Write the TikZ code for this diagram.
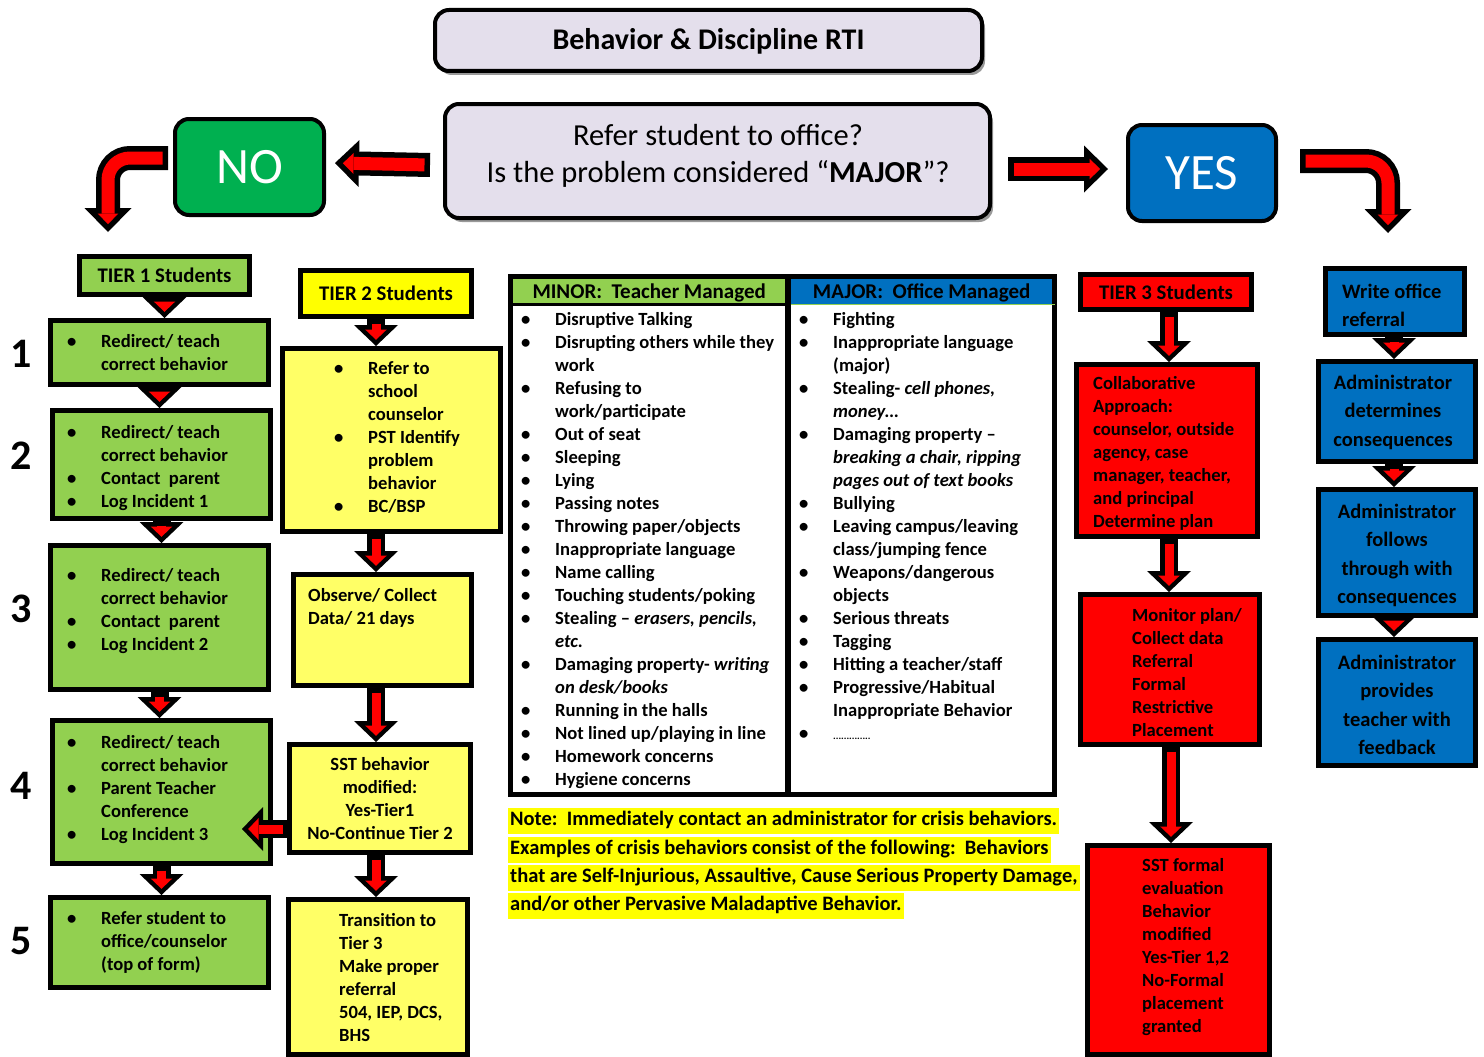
\documentclass[tikz,border=0pt]{standalone}
\usepackage{fontspec}
\setmainfont{Carlito}
\usetikzlibrary{arrows.meta,shadows}

\definecolor{titlegray}{HTML}{E4DFEC}
\definecolor{nogreen}{HTML}{00B050}
\definecolor{officeblue}{HTML}{0070C0}
\definecolor{tiergreen}{HTML}{92D050}
\definecolor{tieryellow}{HTML}{FFFF00}
\definecolor{paleyellow}{HTML}{FFFF66}
\definecolor{tierred}{HTML}{FF0000}

\newcommand{\bodyfont}{\fontsize{18.6}{23}\selectfont\bfseries}
\newcommand{\bluefont}{\fontsize{20.5}{28.5}\selectfont\bfseries}
\newcommand{\labelfont}{\fontsize{20.8}{25}\selectfont\bfseries}
\newcommand{\bitem}{\makebox[34pt][l]{\textbullet}}
\newcommand{\bcont}{\hspace*{34pt}}

\begin{document}
\begin{tikzpicture}[x=1pt, y=-1pt,
        flowbox/.style={draw=black, line width=5pt, inner sep=0pt, anchor=north west},
        roundbox/.style={draw=black, line width=4pt, rounded corners=14pt, inner sep=0pt, anchor=north west},
        boxshadow/.style={drop shadow={shadow xshift=3pt, shadow yshift=-4pt, opacity=0.4, fill=black}},
        bodytext/.style={inner sep=0pt, anchor=north west, align=left, font=\bodyfont, yshift=-3pt, execute at begin node=\strut},
        bluetext/.style={inner sep=0pt, anchor=north, align=center, font=\bluefont, yshift=-5pt, execute at begin node=\strut},
        headtext/.style={inner sep=0pt, anchor=north west, minimum height=28pt, text height=20.5pt, text depth=4.5pt,
            font=\fontsize{21}{25}\selectfont\bfseries},
        notetext/.style={fill=tieryellow, inner xsep=2pt, inner ysep=3pt, anchor=west, text height=15pt, text depth=5pt, font=\fontsize{20.5}{28}\selectfont\bfseries},
        numtext/.style={inner sep=0pt, font=\fontsize{42}{48}\selectfont\bfseries},
        arrow/.style={draw=tierred, line width=9pt, shorten <=4.5pt, shorten >=6.2pt,
            -{Triangle[width=21.6pt, length=10.3pt, line width=0pt]},
            preaction={draw=black, line width=18pt, shorten <=0pt, shorten >=0pt,
                -{Triangle[width=44pt, length=21pt, line width=0pt]}}},
        bigarrow/.style={draw=tierred, line width=13pt, shorten <=5.5pt, shorten >=7.9pt,
            -{Triangle[width=20.8pt, length=10.6pt, line width=0pt]},
            preaction={draw=black, line width=24pt, shorten <=0pt, shorten >=0pt,
                -{Triangle[width=47pt, length=24pt, line width=0pt]}}}]

        \fill[white] (0,0) rectangle (1484,1057);
        \useasboundingbox (0,0) rectangle (1484,1057);

        % Title and question --  --  --  --  --  --  --  --  --  --  --  --
        \node[roundbox, boxshadow, fill=titlegray, minimum width=547pt, minimum height=61pt,
            text height=25pt, text depth=6pt,
            font=\fontsize{30}{36}\selectfont\bfseries] (title) at (433,8) {Behavior \& Discipline RTI};
        \node[roundbox, boxshadow, fill=titlegray, minimum width=545pt, minimum height=114pt] (quest) at (443,102) {};
        \node[align=center, inner sep=0pt, font=\fontsize{30.5}{37}\selectfont] (qtxt) at (718,156)
            {Refer student to office?\\Is the problem considered “\textbf{MAJOR}”?};

        % NO / YES
        \node[roundbox, fill=nogreen, minimum width=149pt, minimum height=96pt, text=white,
            font=\fontsize{51}{55}\selectfont] (no) at (173,117) {NO};
        \node[roundbox, fill=officeblue, minimum width=148pt, minimum height=96pt, text=white,
            font=\fontsize{51}{55}\selectfont] (yes) at (1126,123) {YES};
        %  --  --  --  --  --  --  --  --  --  --  --  --  --  --  --  --

        % Tier 1 --  --  --  --  --  --  --  --  --  --  --  --  --  --  --
        \node[flowbox, fill=tiergreen, minimum width=170pt, minimum height=38pt, font=\labelfont] (t1) at (77,254) {TIER 1 Students};
        \node[flowbox, fill=tiergreen, minimum width=218pt, minimum height=64pt] (b1) at (48,318) {};
        \node[flowbox, fill=tiergreen, minimum width=218pt, minimum height=108pt] (b2) at (50,408) {};
        \node[flowbox, fill=tiergreen, minimum width=218pt, minimum height=144pt] (b3) at (48,543) {};
        \node[flowbox, fill=tiergreen, minimum width=218pt, minimum height=143pt] (b4) at (50,718) {};
        \node[flowbox, fill=tiergreen, minimum width=218pt, minimum height=90pt] (b5) at (48,895) {};

        \node[bodytext] (b1txt) at (67,331) {\bitem Redirect/ teach\\\bcont correct behavior};
        \node[bodytext] (b2txt) at (67,422) {\bitem Redirect/ teach\\\bcont correct behavior\\
            \bitem Contact\ \ parent\\\bitem Log Incident 1};
        \node[bodytext] (b3txt) at (67,565) {\bitem Redirect/ teach\\\bcont correct behavior\\
            \bitem Contact\ \ parent\\\bitem Log Incident 2};
        \node[bodytext] (b4txt) at (67,732) {\bitem Redirect/ teach\\\bcont correct behavior\\
            \bitem Parent Teacher\\\bcont Conference\\\bitem Log Incident 3};
        \node[bodytext] (b5txt) at (67,908) {\bitem Refer student to\\\bcont office/counselor\\\bcont (top of form)};

        % step numbers
        \node[numtext] (n1) at (21,354) {1};
        \node[numtext] (n2) at (21,456) {2};
        \node[numtext] (n3) at (21,609) {3};
        \node[numtext] (n4) at (21,786) {4};
        \node[numtext] (n5) at (21,941) {5};
        %  --  --  --  --  --  --  --  --  --  --  --  --  --  --  --  --

        % Tier 2 --  --  --  --  --  --  --  --  --  --  --  --  --  --  --
        \node[flowbox, fill=tieryellow, minimum width=171pt, minimum height=46pt, font=\labelfont] (t2) at (298,268) {TIER 2 Students};
        \node[flowbox, fill=paleyellow, minimum width=218pt, minimum height=183pt] (t2a) at (280,346) {};
        \node[flowbox, fill=paleyellow, minimum width=178pt, minimum height=111pt] (t2b) at (291,572) {};
        \node[flowbox, fill=paleyellow, minimum width=181pt, minimum height=108pt] (t2c) at (287,742) {};
        \node[flowbox, fill=paleyellow, minimum width=179pt, minimum height=155pt] (t2d) at (286,897) {};

        \node[bodytext] (t2atxt) at (334,358) {\bitem Refer to\\\bcont school\\\bcont counselor\\
            \bitem PST Identify\\\bcont problem\\\bcont behavior\\\bitem BC/BSP};
        \node[bodytext] (t2btxt) at (308,585) {Observe/ Collect\\Data/ 21 days};
        \node[bodytext, anchor=north, align=center] (t2ctxt) at (380,754)
            {SST behavior\\modified:\\Yes-Tier1\\No-Continue Tier 2};
        \node[bodytext] (t2dtxt) at (339,910) {Transition to\\Tier 3\\Make proper\\referral\\504, IEP, DCS,\\BHS};
        %  --  --  --  --  --  --  --  --  --  --  --  --  --  --  --  --

        % Minor / Major table --  --  --  --  --  --  --  --  --  --  --  -
        \node[headtext, fill=tiergreen, minimum width=278pt] (minor) at (510,276) {MINOR:\ \ Teacher Managed};
        \node[headtext, fill=officeblue, minimum width=267pt] (major) at (788,276) {MAJOR:\ \ Office Managed};
        \node[flowbox, minimum width=544pt, minimum height=518pt] (tbl) at (508,274) {};
        \draw[line width=3pt] (minor.south west) -- (minor.south east);
        \draw[line width=1.5pt, tiergreen] (major.south west) -- (major.south east);
        \draw[line width=6pt] (minor.north east) -- (minor.north east |- tbl.south);

        \node[bodytext] (minortxt) at (521,309) {\bitem Disruptive Talking\\
            \bitem Disrupting others while they\\\bcont work\\
            \bitem Refusing to\\\bcont work/participate\\
            \bitem Out of seat\\
            \bitem Sleeping\\
            \bitem Lying\\
            \bitem Passing notes\\
            \bitem Throwing paper/objects\\
            \bitem Inappropriate language\\
            \bitem Name calling\\
            \bitem Touching students/poking\\
            \bitem Stealing -- \textit{erasers, pencils,}\\\bcont \textit{etc.}\\
            \bitem Damaging property- \textit{writing}\\\bcont \textit{on desk/books}\\
            \bitem Running in the halls\\
            \bitem Not lined up/playing in line\\
            \bitem Homework concerns\\
            \bitem Hygiene concerns};
        \node[bodytext] (majortxt) at (799,309) {\bitem Fighting\\
            \bitem Inappropriate language\\\bcont (major)\\
            \bitem Stealing- \textit{cell phones,}\\\bcont \textit{money…}\\
            \bitem Damaging property --\\\bcont \textit{breaking a chair, ripping}\\\bcont \textit{pages out of text books}\\
            \bitem Bullying\\
            \bitem Leaving campus/leaving\\\bcont class/jumping fence\\
            \bitem Weapons/dangerous\\\bcont objects\\
            \bitem Serious threats\\
            \bitem Tagging\\
            \bitem Hitting a teacher/staff\\
            \bitem Progressive/Habitual\\\bcont Inappropriate Behavior\\
            \bitem {\fontsize{10}{23}\selectfont ..............}};

        % crisis note
        \node[notetext] (note1) at (508,820.5) {Note:\ \ Immediately contact an administrator for crisis behaviors.};
        \node[notetext] (note2) at (508,849.5) {Examples of crisis behaviors consist of the following:\ \ Behaviors};
        \node[notetext] (note3) at (508,877.5) {that are Self-Injurious, Assaultive, Cause Serious Property Damage,};
        \node[notetext] (note4) at (508,905.5) {and/or other Pervasive Maladaptive Behavior.};
        %  --  --  --  --  --  --  --  --  --  --  --  --  --  --  --  --

        % Tier 3 --  --  --  --  --  --  --  --  --  --  --  --  --  --  --
        \node[flowbox, fill=tierred, minimum width=171pt, minimum height=35pt, font=\labelfont] (t3) at (1078,272) {TIER 3 Students};
        \node[flowbox, fill=tierred, minimum width=181pt, minimum height=172pt] (t3a) at (1074,362) {};
        \node[flowbox, fill=tierred, minimum width=179pt, minimum height=150pt] (t3b) at (1078,592) {};
        \node[flowbox, fill=tierred, minimum width=182pt, minimum height=209pt] (t3c) at (1085,843) {};

        \node[bodytext] (t3atxt) at (1093,373) {Collaborative\\Approach:\\counselor, outside\\agency, case\\
            manager, teacher,\\and principal\\Determine plan};
        \node[bodytext] (t3btxt) at (1132,605) {Monitor plan/\\Collect data\\Referral\\Formal\\Restrictive\\Placement};
        \node[bodytext] (t3ctxt) at (1142,855) {SST formal\\evaluation\\Behavior\\modified\\Yes-Tier 1,2\\
            No-Formal\\placement\\granted};
        %  --  --  --  --  --  --  --  --  --  --  --  --  --  --  --  --

        % Office referral --  --  --  --  --  --  --  --  --  --  --  --  -
        \node[flowbox, fill=officeblue, minimum width=139pt, minimum height=66pt] (off) at (1323,266) {};
        \node[flowbox, fill=officeblue, minimum width=157pt, minimum height=100pt] (adm1) at (1316,359) {};
        \node[flowbox, fill=officeblue, minimum width=157pt, minimum height=126pt] (adm2) at (1316,487) {};
        \node[flowbox, fill=officeblue, minimum width=157pt, minimum height=126pt] (adm3) at (1316,637) {};

        \node[bluetext, anchor=north west, align=left] (offtxt) at (1342,278.5) {Write office\\referral};
        \node[bluetext] (adm1txt) at (1393,369.5) {Administrator\\determines\\consequences};
        \node[bluetext] (adm2txt) at (1397,498.5) {Administrator\\follows\\through with\\consequences};
        \node[bluetext] (adm3txt) at (1397,649.5) {Administrator\\provides\\teacher with\\feedback};
        %  --  --  --  --  --  --  --  --  --  --  --  --  --  --  --  --

        % Block arrows --  --  --  --  --  --  --  --  --  --  --  --  --
        % question to NO and YES
        \draw[bigarrow] ([xshift=-13pt, yshift=-4pt]quest.west) -- ([xshift=9pt, yshift=4pt]no.east);
        \draw[bigarrow] ([xshift=16pt, yshift=-8pt]quest.east) -- ([xshift=-18pt, yshift=4pt]yes.west);
        \draw[bigarrow, rounded corners=22pt] ([xshift=-5pt, yshift=9pt]no.west) -| ([xshift=31pt, yshift=22pt]t1.north west);
        \draw[bigarrow, rounded corners=22pt] ([xshift=22pt, yshift=12pt]yes.east) -| ([xshift=-7pt, yshift=33pt]off.north);

        % Tier 1 steps
        \draw[arrow] (t1.south) -- (t1.south |- b1.north);
        \draw[arrow] (b1.south) -- (b1.south |- b2.north);
        \draw[arrow] (b2.south) -- (b2.south |- b3.north);
        \draw[arrow] (b3.south) -- (b3.south |- b4.north);
        \draw[arrow] (b4.south) -- (b4.south |- b5.north);

        % Tier 2 steps
        \coordinate (c2) at (376,0);
        \draw[arrow] (t2.south -| c2) -- (t2a.north -| c2);
        \draw[arrow] (t2a.south -| c2) -- (t2b.north -| c2);
        \draw[arrow] (t2b.south -| c2) -- (t2c.north -| c2);
        \draw[arrow] (t2c.south -| c2) -- (t2d.north -| c2);
        \coordinate (lg3) at (242,829);
        \draw[arrow] (t2c.west |- lg3) -- (lg3);

        % Tier 3 steps
        \coordinate (c3) at (1169,0);
        \draw[arrow] (t3.south -| c3) -- (t3a.north -| c3);
        \draw[arrow] (t3a.south -| c3) -- (t3b.north -| c3);
        \draw[arrow] ([xshift=2pt]t3b.south -| c3) -- ([xshift=2pt]t3c.north -| c3);

        % office steps
        \coordinate (c4) at (1394,0);
        \draw[arrow] (off.south -| c4) -- (adm1.north -| c4);
        \draw[arrow] (adm1.south -| c4) -- (adm2.north -| c4);
        \draw[arrow] (adm2.south -| c4) -- (adm3.north -| c4);
        %  --  --  --  --  --  --  --  --  --  --  --  --  --  --  --  --
\end{tikzpicture}
\end{document}
